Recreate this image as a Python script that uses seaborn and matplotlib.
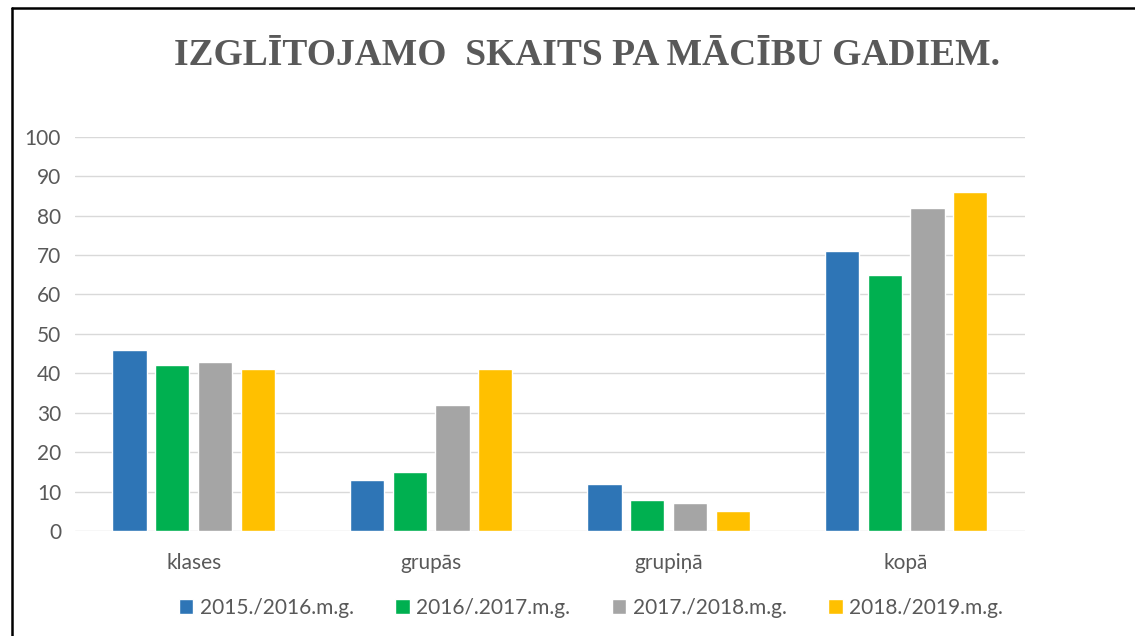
import pandas as pd
import matplotlib.pyplot as plt
import seaborn as sns
from matplotlib.lines import Line2D

# data
categories = ['klases', 'grupās', 'grupiņā', 'kopā']
years = ['2015./2016.m.g.', '2016/.2017.m.g.', '2017./2018.m.g.', '2018./2019.m.g.']
v2015 = [46, 13, 12, 71]
v2016 = [42, 15, 8, 65]
v2017 = [43, 32, 7, 82]
v2018 = [41, 41, 5, 86]
colors = ['#2E75B6', '#00B050', '#A5A5A5', '#FFC000']

rows = []
for year, vals in zip(years, [v2015, v2016, v2017, v2018]):
    for cat, v in zip(categories, vals):
        rows.append({'cat': cat, 'year': year, 'value': v})
df = pd.DataFrame(rows)

sns.set_style('white')
plt.rcParams['font.family'] = ['Lato', 'DejaVu Sans']
text_color = '#595959'

fig = plt.figure(figsize=(11.35, 6.36), dpi=100)
ax = fig.add_axes([0.066, 0.165, 0.837, 0.62])

sns.barplot(data=df, x='cat', y='value', hue='year', order=categories,
            hue_order=years, palette=colors, width=0.72, gap=0.2,
            saturation=1, ax=ax)

ax.set_ylim(0, 100)
ax.set_yticks(range(0, 101, 10))
ax.yaxis.grid(True, color='#D9D9D9', linewidth=1)
ax.set_axisbelow(True)
for s in ax.spines.values():
    s.set_visible(False)
ax.tick_params(axis='both', length=0, labelsize=15, colors=text_color)
ax.tick_params(axis='x', pad=16)
ax.tick_params(axis='y', pad=10)
ax.set_xlabel('')
ax.set_ylabel('')

ax.legend(loc='center', bbox_to_anchor=(0.543, -0.195), ncol=4, frameon=False,
          fontsize=15, handlelength=0.7, handleheight=0.7, handletextpad=0.3,
          columnspacing=2.0, labelcolor=text_color)

fig.text(0.517, 0.912, 'IZGLĪTOJAMO  SKAITS PA MĀCĪBU GADIEM.', ha='center',
         va='center', fontsize=27, fontweight='bold', color=text_color,
         family='Liberation Serif')

# frame lines of the original slide
fig.add_artist(Line2D([0.0106, 1.0], [0.987, 0.987], color='black', linewidth=1.8))
fig.add_artist(Line2D([0.0106, 0.0106], [0.0, 0.987], color='black', linewidth=1.8))

fig.savefig('out.png', dpi=100, facecolor='white')
